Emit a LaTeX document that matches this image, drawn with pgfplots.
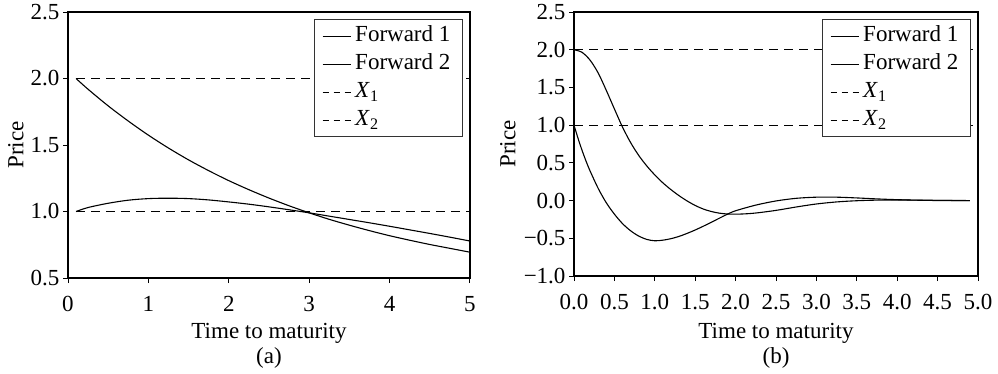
\documentclass[border=0pt]{standalone}
\usepackage{fontspec}
\setmainfont{Liberation Serif}
\usepackage{pgfplots}
\pgfplotsset{compat=1.18}
\begin{document}
\begin{tikzpicture}[font=\fontsize{23}{27.6}\selectfont]
\useasboundingbox (0,0) rectangle (998pt,373pt);
\pgfplotsset{
  mystyle/.style={
    scale only axis,
    axis line style={line width=1.5pt},
    tick style={line width=1pt,black},
    tick align=outside, tick pos=left,
    major tick length=5pt,
    ylabel={Price}, xlabel={Time to maturity},
    xticklabel style={yshift=-10pt},
    legend style={draw=black!80, line width=1.2pt, fill=white,
      at={(1,1)}, anchor=north east, xshift=-7pt, yshift=-7pt,
      inner xsep=8pt, inner ysep=5pt, row sep=5pt,
      nodes={inner xsep=4pt, inner ysep=0pt, text height=17pt, text depth=6pt},
      cells={anchor=west}, font=\fontsize{23}{27.6}\selectfont},
    legend image code/.code={\draw[#1] (6pt,0pt) -- (34pt,0pt);},
    curve/.style={black, line width=1.1pt, smooth},
    strike/.style={black, line width=1.1pt, dash pattern=on 9pt off 6pt,
      legend image code/.code={\draw[black, line width=1.1pt, dash pattern=on 6pt off 5pt] (6pt,0pt) -- (34pt,0pt);}},
  }
}
% ---------------- panel (a)
\begin{axis}[mystyle, name=pa,
  at={(68pt,95pt)}, anchor=south west,
  width=402pt, height=266pt,
  xmin=0, xmax=5, ymin=0.5, ymax=2.5,
  xtick={0,1,2,3,4,5}, xticklabels={0,1,2,3,4,5},
  ytick={0.5,1.0,1.5,2.0,2.5}, yticklabels={0.5,1.0,1.5,2.0,2.5},
  ylabel style={at={(axis description cs:-0.1294,0.5)}, anchor=center},
  xlabel style={at={(axis description cs:0.5,-0.2068)}, anchor=center},
]
\addplot[curve] coordinates {
(0.1,2.000) (0.25,1.919) (0.5,1.794) (0.75,1.680) (1.0,1.574) (1.25,1.477)
(1.5,1.388) (1.75,1.307) (2.0,1.232) (2.25,1.164) (2.5,1.101) (2.75,1.043)
(3.0,0.990) (3.25,0.941) (3.5,0.897) (3.75,0.856) (4.0,0.818) (4.25,0.784)
(4.5,0.752) (4.75,0.723) (5.0,0.694)};
\addlegendentry{Forward 1}
\addplot[curve] coordinates {
(0.1,1.000) (0.25,1.030) (0.5,1.062) (0.75,1.085) (1.0,1.097) (1.25,1.100)
(1.5,1.097) (1.75,1.087) (2.0,1.072) (2.25,1.055) (2.5,1.035) (2.75,1.013)
(3.0,0.990) (3.25,0.965) (3.5,0.940) (3.75,0.915) (4.0,0.889) (4.25,0.862)
(4.5,0.835) (4.75,0.807) (5.0,0.778)};
\addlegendentry{Forward 2}
\addplot[strike] coordinates {(0.1,2.0) (5,2.0)};
\addlegendentry{\textit{X}\textsubscript{1}}
\addplot[strike] coordinates {(0.1,1.0) (5,1.0)};
\addlegendentry{\textit{X}\textsubscript{2}}
\end{axis}
\node at ([yshift=-80pt]pa.south) {(a)};
% ---------------- panel (b)
\begin{axis}[mystyle, name=pb,
  at={(574pt,97pt)}, anchor=south west,
  width=404pt, height=264pt,
  xmin=0, xmax=5, ymin=-1, ymax=2.5,
  xtick={0,0.5,1,1.5,2,2.5,3,3.5,4,4.5,5},
  xticklabels={0.0,0.5,1.0,1.5,2.0,2.5,3.0,3.5,4.0,4.5,5.0},
  ytick={-1,-0.5,0,0.5,1,1.5,2,2.5},
  yticklabels={−1.0,−0.5,0.0,0.5,1.0,1.5,2.0,2.5},
  ylabel style={at={(axis description cs:-0.1634,0.5)}, anchor=center},
  xlabel style={at={(axis description cs:0.5,-0.216)}, anchor=center},
]
\addplot[curve] coordinates {
(0.0,2.000) (0.1,1.965) (0.2,1.860) (0.3,1.690) (0.4,1.460) (0.5,1.215)
(0.6,0.975) (0.7,0.770) (0.8,0.600) (0.9,0.460) (1.0,0.340) (1.1,0.235)
(1.2,0.145) (1.3,0.065) (1.4,-0.005) (1.5,-0.065) (1.6,-0.112) (1.7,-0.145)
(1.8,-0.167) (1.9,-0.178) (2.0,-0.180) (2.1,-0.177) (2.25,-0.165)
(2.5,-0.130) (2.75,-0.085) (3.0,-0.045) (3.25,-0.018) (3.5,-0.002)
(3.75,0.006) (4.0,0.008) (4.25,0.006) (4.5,0.003) (4.9,0.0)};
\addlegendentry{Forward 1}
\addplot[curve] coordinates {
(0.0,1.000) (0.05,0.825) (0.1,0.665) (0.15,0.520) (0.2,0.390) (0.3,0.160)
(0.4,-0.030) (0.5,-0.180) (0.6,-0.305) (0.7,-0.400) (0.8,-0.470)
(0.9,-0.515) (1.0,-0.533) (1.1,-0.525) (1.2,-0.505) (1.3,-0.475)
(1.4,-0.435) (1.5,-0.390) (1.6,-0.340) (1.7,-0.287) (1.8,-0.233)
(1.9,-0.180) (2.0,-0.135) (2.25,-0.060) (2.5,-0.005) (2.75,0.030)
(3.0,0.045) (3.25,0.045) (3.5,0.035) (3.75,0.022) (4.0,0.012)
(4.25,0.005) (4.5,0.001) (4.9,0.0)};
\addlegendentry{Forward 2}
\addplot[strike] coordinates {(0,2.0) (5,2.0)};
\addlegendentry{\textit{X}\textsubscript{1}}
\addplot[strike] coordinates {(0,1.0) (5,1.0)};
\addlegendentry{\textit{X}\textsubscript{2}}
\end{axis}
\node at ([yshift=-82pt]pb.south) {(b)};
\end{tikzpicture}
\end{document}
